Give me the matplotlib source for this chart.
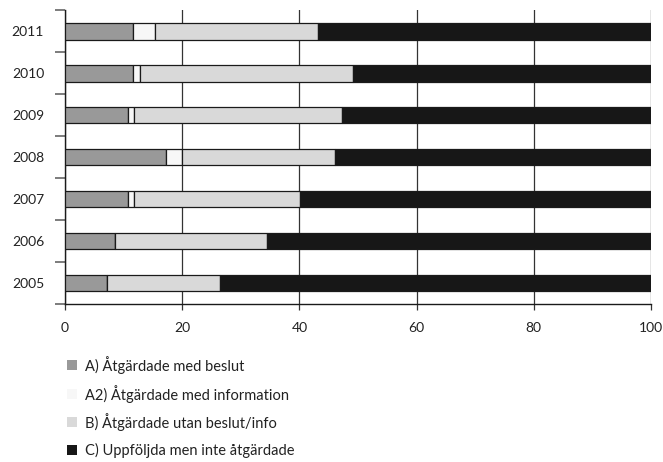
import matplotlib
matplotlib.use("Agg")
import matplotlib.pyplot as plt
from matplotlib.patches import Rectangle
import numpy as np

plt.rcParams['font.family'] = ['Lato', 'DejaVu Sans']

years = ['2005', '2006', '2007', '2008', '2009', '2010', '2011']
a_beslut = [7.1, 8.6, 10.7, 17.3, 10.7, 11.6, 11.6]
a2_info = [0.0, 0.0, 1.0, 2.7, 1.0, 1.2, 3.7]
b_utan = [19.4, 25.8, 28.4, 26.1, 35.5, 36.4, 27.8]
c_ej = [73.5, 65.6, 59.9, 53.9, 52.8, 50.8, 56.9]

series = [
    ('A) Åtgärdade med beslut', a_beslut, '#999999'),
    ('A2) Åtgärdade med information', a2_info, '#f7f7f7'),
    ('B) Åtgärdade utan beslut/info', b_utan, '#d9d9d9'),
    ('C) Uppföljda men inte åtgärdade', c_ej, '#171717'),
]
xticks = [0, 20, 40, 60, 80, 100]

W, H = 663, 462
fig = plt.figure(figsize=(W / 100, H / 100), dpi=100)
ax = fig.add_axes([0.098, 0.342, 0.884, 0.636])

y = np.arange(len(years))
left = np.zeros(len(years))
for label, vals, col in series:
    vals = np.array(vals)
    ax.barh(y, vals, left=left, height=0.4, color=col, edgecolor='#1a1a1a',
            linewidth=0.9, zorder=3)
    left += vals

ax.set_xlim(0, 100)
ax.set_ylim(-0.5, len(years) - 0.5)
ax.set_xticks(xticks)
ax.set_xticklabels([str(t) for t in xticks], fontsize=10, color='#222222')
ax.xaxis.grid(True, color='#333333', linewidth=0.9, zorder=0)
ax.tick_params(axis='x', length=4, width=0.9, color='#333333', pad=9)

ax.set_yticks(y)
ax.set_yticklabels(years, fontsize=10, color='#222222')
ax.tick_params(axis='y', which='major', length=0, pad=15)
ax.set_yticks(np.arange(-0.5, len(years), 1.0), minor=True)
ax.tick_params(axis='y', which='minor', length=7, width=1.2, color='#666666')

for s in ['top', 'right']:
    ax.spines[s].set_visible(False)
ax.spines['left'].set_color('#1a1a1a')
ax.spines['left'].set_linewidth(1.0)
ax.spines['bottom'].set_color('#1a1a1a')
ax.spines['bottom'].set_linewidth(1.0)

# legend drawn manually below the axes
row_y = [365, 394, 422, 450]
for (lab, _, col), ry in zip(series, row_y):
    fig.patches.append(Rectangle((67 / W, 1 - (ry + 5) / H), 10 / W, 10 / H,
                                 transform=fig.transFigure, facecolor=col,
                                 edgecolor='none'))
    fig.text(85 / W, 1 - ry / H, lab, fontsize=10.5, color='#222222',
             va='center', ha='left')

fig.savefig('out.png', dpi=100)
